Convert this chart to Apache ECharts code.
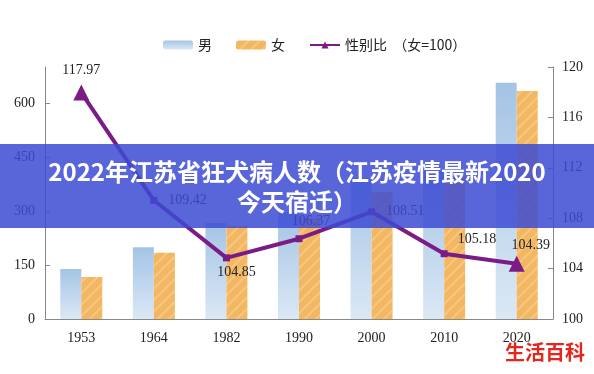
<!DOCTYPE html>
<html>
<head>
<meta charset="utf-8">
<script src="https://cdn.jsdelivr.net/npm/echarts@6/dist/echarts.min.js"></script>
<style>
html,body{margin:0;padding:0;background:#fff;}
#chart{width:594px;height:374px;}
</style>
</head>
<body>
<div id="chart"></div>
<script>
var years = ['1953','1964','1982','1990','2000','2010','2020'];
var male = [139, 199, 267, 297, 392, 412, 656];
var female = [117, 184, 258, 280, 353, 392, 633];
var ratio = [117.97, 109.42, 104.85, 106.37, 108.51, 105.18, 104.39];
var leftTicks = [0, 700, 150];
var rightTicks = [100, 120, 4];

var chart = echarts.init(document.getElementById('chart'));
var serif = '"Liberation Serif", "DejaVu Serif", serif';
var cjk = '"Noto Sans CJK SC", sans-serif';

var labelCfg = [
  {position: 'top', distance: 7},
  {position: 'right', distance: 11},
  {position: 'bottom', distance: 4, offset: [10, 0]},
  {position: 'top', distance: 7, offset: [12, 0]},
  {position: 'right', distance: 11},
  {position: 'right', distance: 10, offset: [0, -14]},
  {position: 'top', distance: 3, offset: [14, 0]}
];
var ratioData = ratio.map(function (v, i) {
  var ends = (i === 0 || i === ratio.length - 1);
  return {
    value: v,
    symbol: ends ? 'triangle' : 'rect',
    symbolSize: ends ? 16 : 7,
    label: labelCfg[i]
  };
});

var option = {
  animation: false,
  backgroundColor: '#fff',
  legend: {
    top: 33,
    left: 158,
    itemWidth: 30,
    itemHeight: 9,
    itemGap: 24,
    textStyle: {fontFamily: cjk, fontSize: 14, color: '#222'},
    data: [
      {name: '男', icon: 'roundRect'},
      {name: '女', icon: 'roundRect'},
      {name: '性别比  （女=100）'}
    ]
  },
  grid: {left: 45, right: 41, top: 67, bottom: 55},
  xAxis: {
    type: 'category',
    data: years,
    axisLine: {lineStyle: {color: '#888'}},
    axisTick: {inside: true, length: 5, lineStyle: {color: '#888'}},
    axisLabel: {fontFamily: serif, fontSize: 14, color: '#222', margin: 12}
  },
  yAxis: [
    {
      type: 'value', min: leftTicks[0], max: leftTicks[1], interval: leftTicks[2],
      axisLine: {show: true, lineStyle: {color: '#888'}},
      axisTick: {show: true, inside: true, length: 5, lineStyle: {color: '#888'}},
      axisLabel: {fontFamily: serif, fontSize: 14, color: '#222', margin: 10, showMaxLabel: false},
      splitLine: {show: false}
    },
    {
      type: 'value', min: rightTicks[0], max: rightTicks[1], interval: rightTicks[2],
      position: 'right',
      axisLine: {show: true, lineStyle: {color: '#888'}},
      axisTick: {show: true, inside: true, length: 5, lineStyle: {color: '#888'}},
      axisLabel: {fontFamily: serif, fontSize: 14, color: '#222', margin: 9},
      splitLine: {show: false}
    }
  ],
  series: [
    {
      name: '男', type: 'bar', data: male, barWidth: 21, barGap: '0%',
      itemStyle: {
        color: new echarts.graphic.LinearGradient(0, 0, 0, 1, [
          {offset: 0, color: '#a4c4e5'},
          {offset: 1, color: '#dbe8f5'}
        ])
      }
    },
    {
      name: '女', type: 'bar', data: female, barWidth: 21,
      itemStyle: {
        color: '#f4b761',
        decal: {
          symbol: 'rect', symbolSize: 1,
          dashArrayX: [1, 0], dashArrayY: [2, 6],
          rotation: -Math.PI / 4,
          color: 'rgba(255,255,255,0.22)'
        }
      }
    },
    {
      name: '性别比  （女=100）', type: 'line', yAxisIndex: 1, data: ratioData,
      z: 5,
      lineStyle: {color: '#7b1b86', width: 4},
      itemStyle: {color: '#7b1b86'},
      symbol: 'triangle', symbolSize: 12,
      label: {show: true, fontFamily: serif, fontSize: 14, color: '#222'}
    }
  ],
  graphic: [
    {
      type: 'rect', z: 100,
      shape: {x: 0, y: 144, width: 594, height: 84},
      style: {fill: 'rgba(60,75,212,0.85)'}
    },
    {
      type: 'text', z: 101, left: 'center', top: 157,
      style: {
        text: '2022年江苏省狂犬病人数（江苏疫情最新2020\n今天宿迁）',
        fill: '#fff', font: 'bold 24px "Noto Sans CJK SC", sans-serif',
        textAlign: 'center', lineHeight: 30
      }
    },
    {
      type: 'text', z: 101, left: 505, top: 342,
      style: {
        text: '生活百科', fill: '#e5261c',
        font: 'bold 20px "Noto Sans CJK SC", sans-serif'
      }
    }
  ]
};
chart.setOption(option);
</script>
</body>
</html>
